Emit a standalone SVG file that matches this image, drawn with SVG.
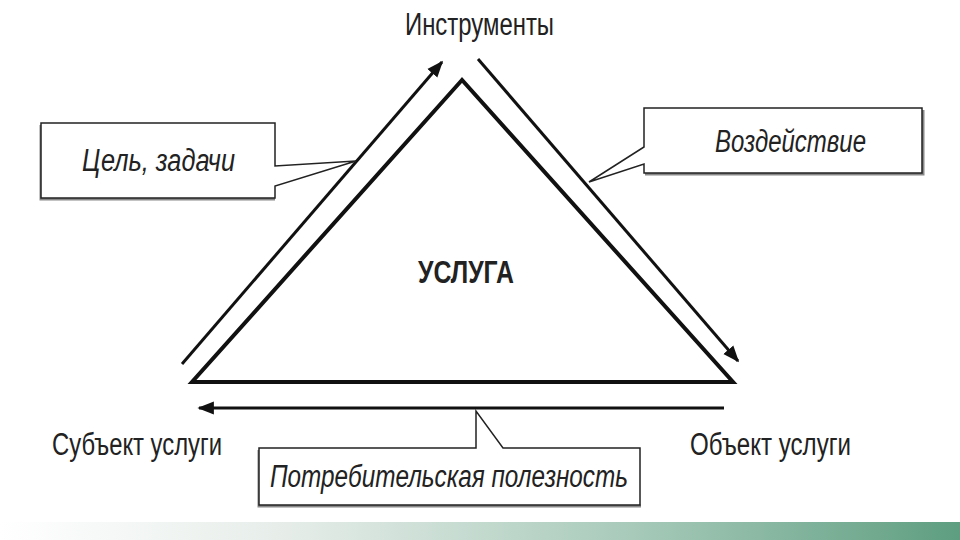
<svg xmlns="http://www.w3.org/2000/svg" width="960" height="540" viewBox="0 0 960 540">
<defs>
<linearGradient id="band" x1="0" y1="0" x2="1" y2="0">
<stop offset="0" stop-color="#ffffff"/>
<stop offset="0.3" stop-color="#e6ede9"/>
<stop offset="0.65" stop-color="#a9cbbb"/>
<stop offset="1" stop-color="#5e9e80"/>
</linearGradient>
<marker id="ah" viewBox="0 0 10 10" refX="9" refY="5" markerWidth="5.5" markerHeight="5.5" orient="auto" markerUnits="strokeWidth">
<path d="M0,1 L10,5 L0,9 Z" fill="#111"/>
</marker>
<style>
.tri{fill:none;stroke:#111;stroke-width:4;stroke-linejoin:miter}
.arr{fill:none;stroke:#111;stroke-width:3}
.call{fill:#fff;stroke:#222;stroke-width:1.5}
.shadow{fill:none;stroke:#888;stroke-width:3}
.lbl{font-family:"Liberation Sans",Arial,sans-serif;fill:#222;font-size:31px}
.it{font-style:italic}
</style>
</defs>
<rect x="0" y="0" width="960" height="540" fill="#fff"/>
<rect x="0" y="522" width="960" height="18" fill="url(#band)"/>
<g id="connectors">
<line class="arr" x1="182" y1="364" x2="442" y2="62" marker-end="url(#ah)"/>
<line class="arr" x1="478" y1="59" x2="738" y2="361" marker-end="url(#ah)"/>
<line class="arr" x1="724" y1="408" x2="199" y2="408" marker-end="url(#ah)"/>
</g>
<g id="triangle">
<polygon class="tri" points="462,80 192,382 733,382"/>
<text class="lbl" x="466" y="283" text-anchor="middle" font-weight="bold" font-size="27" textLength="96" lengthAdjust="spacingAndGlyphs">УСЛУГА</text>
</g>
<g id="instruments">
<text class="lbl" x="405" y="35" textLength="149" lengthAdjust="spacingAndGlyphs">Инструменты</text>
</g>
<g id="subject">
<text class="lbl" x="52" y="455" textLength="170" lengthAdjust="spacingAndGlyphs">Субъект услуги</text>
</g>
<g id="object">
<text class="lbl" x="690" y="455" textLength="161" lengthAdjust="spacingAndGlyphs">Объект услуги</text>
</g>
<g id="goal">
<path class="shadow" d="M41,125 V199 H275"/>
<path class="call" d="M41,123 H275 V166 L356,161 L275,186 V198 H41 Z"/>
<text class="lbl it" x="82" y="171" textLength="153" lengthAdjust="spacingAndGlyphs">Цель, задачи</text>
</g>
<g id="impact">
<path class="shadow" d="M923,110 V174 H645"/>
<path class="call" d="M644,108 H922 V173 H644 V164 L589,182 L644,147 Z"/>
<text class="lbl it" x="715" y="152" textLength="151" lengthAdjust="spacingAndGlyphs">Воздействие</text>
</g>
<g id="utility">
<path class="shadow" d="M259,450 V506 H641"/>
<path class="call" d="M259,448 H476 V411 L503,448 H640 V505 H259 Z"/>
<text class="lbl it" x="270" y="487" textLength="358" lengthAdjust="spacingAndGlyphs">Потребительская полезность</text>
</g>
</svg>
